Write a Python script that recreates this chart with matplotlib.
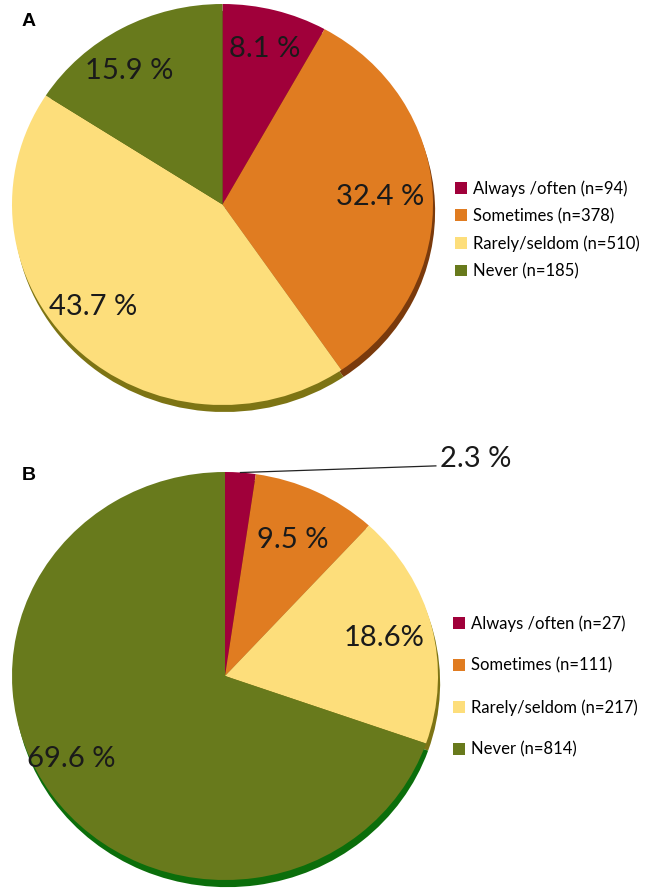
import numpy as np
import matplotlib
matplotlib.use("Agg")
import matplotlib.pyplot as plt

plt.rcParams["font.family"] = ["Lato", "DejaVu Sans"]

W, H = 651, 889

categories = ["Always /often", "Sometimes", "Rarely/seldom", "Never"]
counts_a = [94, 378, 510, 185]
counts_b = [27, 111, 217, 814]
pct_a = ["8.1 %", "32.4 %", "43.7 %", "15.9 %"]
pct_b = ["2.3 %", "9.5 %", "18.6%", "69.6 %"]

COLORS = ["#A0003A", "#E07C21", "#FDDE7B", "#687A1C"]
SHADOW_A = ["#5c0022", "#7a3a0c", "#7d7414", "#4b5812"]
SHADOW_B = ["#5c0022", "#7a3a0c", "#7d7414", "#0b6e0b"]

fig = plt.figure(figsize=(W / 100, H / 100), dpi=100, facecolor="white")


def pie_axes(cx, cy, rx, ry, drop=0.08):
    # axes in figure coords so that data (-1..1, -1-drop..1) maps onto the ellipse
    left = (cx - rx) / W
    width = 2 * rx / W
    top = cy - ry
    bottom = cy + ry * (1 + drop)
    ax = fig.add_axes([left, 1 - bottom / H, width, (bottom - top) / H])
    return ax, drop


def draw_pie(ax, drop, counts, shadow_cols, labels, radii, angle_shift):
    # shadow underneath
    ax.pie(counts, colors=shadow_cols, startangle=90, counterclock=False,
           radius=1, center=(0.01, -0.035), frame=False,
           wedgeprops=dict(linewidth=0))
    wedges, _ = ax.pie(counts, colors=COLORS, startangle=90, counterclock=False,
                       radius=1, center=(0, 0), frame=False,
                       wedgeprops=dict(linewidth=0))
    ax.set_aspect("auto")
    ax.set_xlim(-1, 1)
    ax.set_ylim(-1 - drop, 1)
    ax.axis("off")
    for w, lab, r, sh in zip(wedges, labels, radii, angle_shift):
        if r is None:
            continue
        mid = np.deg2rad((w.theta1 + w.theta2) / 2 + sh)
        ax.text(r * np.cos(mid), r * np.sin(mid), lab, ha="center", va="center",
                fontsize=21, color="#1a1a1a")
    return wedges


# ---- Panel A ----
ax_a, drop_a = pie_axes(222.5, 204.5, 210.5, 200.5)
wedges_a = draw_pie(ax_a, drop_a, counts_a, SHADOW_A, pct_a,
                    [0.80, 0.75, 0.80, 0.80], [0, 0, -6, 5])
fig.text(22 / W, 1 - 22 / H, "A", fontsize=14, weight="bold",
         family=["Liberation Sans"], ha="left", va="center")
fig.legend(wedges_a, [f"{c} (n={n})" for c, n in zip(categories, counts_a)],
           loc="upper left", bbox_to_anchor=(455 / W, 1 - 180 / H),
           frameon=False, fontsize=12, handlelength=0.7, handleheight=0.7,
           handletextpad=0.4, labelspacing=0.68, borderpad=0, borderaxespad=0)

# ---- Panel B ----
ax_b, drop_b = pie_axes(225, 676, 213, 204)
wedges_b = draw_pie(ax_b, drop_b, counts_b, SHADOW_B, pct_b,
                    [None, 0.74, 0.77, 0.83], [0, 0, 0, -6])
# callout for the small slice
w0 = wedges_b[0]
mid0 = np.deg2rad((w0.theta1 + w0.theta2) / 2)
ax_b.plot([np.cos(mid0), 0.99], [np.sin(mid0), 1.03], color="#222222", lw=0.9,
          clip_on=False)
ax_b.text(1.01, 1.0, pct_b[0], ha="left", va="bottom", fontsize=21,
          color="#1a1a1a", clip_on=False)
fig.text(22 / W, 1 - 475 / H, "B", fontsize=14, weight="bold",
         family=["Liberation Sans"], ha="left", va="center")
fig.legend(wedges_b, [f"{c} (n={n})" for c, n in zip(categories, counts_b)],
           loc="upper left", bbox_to_anchor=(453 / W, 1 - 615 / H),
           frameon=False, fontsize=12, handlelength=0.7, handleheight=0.7,
           handletextpad=0.4, labelspacing=1.55, borderpad=0, borderaxespad=0)

fig.savefig("out.png", dpi=100, facecolor="white")
